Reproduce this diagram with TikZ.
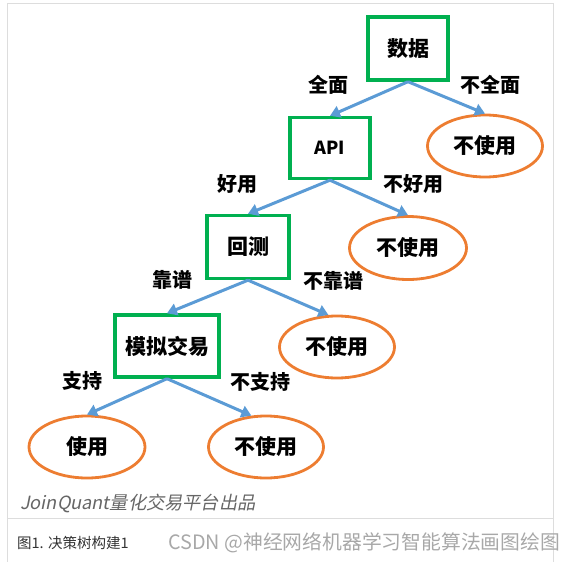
\documentclass[tikz,border=0pt]{standalone}
\usepackage{fontspec}
\setmainfont{Noto Sans CJK SC}
\newfontfamily\cjkit[FakeSlant=0.2]{Noto Sans CJK SC}
\usetikzlibrary{shapes.geometric,arrows.meta}
\definecolor{boxgreen}{HTML}{00B050}
\definecolor{ellorange}{HTML}{ED7D31}
\definecolor{arrblue}{HTML}{5B9BD5}
\definecolor{framegray}{HTML}{DDDDDD}
\definecolor{jqgray}{HTML}{666666}
\definecolor{capgray}{HTML}{333333}
\definecolor{wmgray}{HTML}{A8A8A8}
\tikzset{
  dbox/.style={draw=boxgreen, line width=3.4pt, inner sep=0pt, minimum height=62pt,
    font=\bfseries\fontsize{21}{24}\selectfont},
  dell/.style={ellipse, draw=ellorange, line width=2.8pt, inner sep=0pt,
    minimum width=115pt, minimum height=62pt, font=\bfseries\fontsize{21}{24}\selectfont},
  lbl/.style={inner sep=0pt, font=\bfseries\fontsize{20}{22}\selectfont},
  arr/.style={draw=arrblue, line width=3pt, -{Triangle[length=10pt,width=12pt]}},
}
\begin{document}
\begin{tikzpicture}[x=1pt,y=-1pt]
\useasboundingbox (0,0) rectangle (573,562);
% frame
\draw[framegray, line width=1pt] (7,562) -- (7,3) -- (553,3) -- (553,562);
\draw[framegray, line width=1pt] (7,518) -- (553,518);
% decision nodes
\node[dbox, minimum width=80pt, minimum height=63pt] (d) at (408,48.5) {数据};
\node[dbox, minimum width=80pt, minimum height=61pt] (api) at (330,148) {\fontsize{18}{20}\selectfont API};
\node[dbox, minimum width=82pt, minimum height=63pt] (hc) at (248,247) {回测};
\node[dbox, minimum width=104pt, minimum height=62pt] (mn) at (167,346) {模拟交易};
% leaves
\node[dell] (e1) at (485,146) {不使用};
\node[dell, minimum width=117pt, minimum height=63pt] (e2) at (408,248) {不使用};
\node[dell] (e3) at (337,347) {不使用};
\node[dell] (e4) at (266,447) {不使用};
\node[dell, minimum width=116pt] (e5) at (87,447) {使用};
% arrows
\draw[arr] (d.south) -- (api.north);
\draw[arr] (d.south) -- (e1.north);
\draw[arr] (api.south) -- (hc.north);
\draw[arr] (api.south) -- (e2.north);
\draw[arr] (hc.south) -- (mn.north);
\draw[arr] (hc.south) -- (e3.105);
\draw[arr] (mn.south) -- (e5.north);
\draw[arr] (mn.south) -- (e4.115);
% edge labels
\node[lbl] (l1) at (328,85) {全面};
\node[lbl] (l2) at (490,85) {不全面};
\node[lbl] (l3) at (237,184) {好用};
\node[lbl] (l4) at (413,184) {不好用};
\node[lbl] (l5) at (172,280) {靠谱};
\node[lbl] (l6) at (333,281) {不靠谱};
\node[lbl] (l7) at (82,381) {支持};
\node[lbl] (l8) at (260,382) {不支持};
% credits
\node[anchor=west, inner sep=0pt, text=jqgray, font=\cjkit\fontsize{18.2}{20}\selectfont] (jq) at (20,503) {JoinQuant量化交易平台出品};
\node[anchor=west, inner sep=0pt, text=capgray, font=\fontsize{14.5}{16}\selectfont] (cap) at (17,543) {图1. 决策树构建1};
\node[anchor=west, inner sep=0pt, text=wmgray, font=\fontsize{19.8}{22}\selectfont] (wm) at (168,543) {CSDN @神经网络机器学习智能算法画图绘图};
\end{tikzpicture}
\end{document}
